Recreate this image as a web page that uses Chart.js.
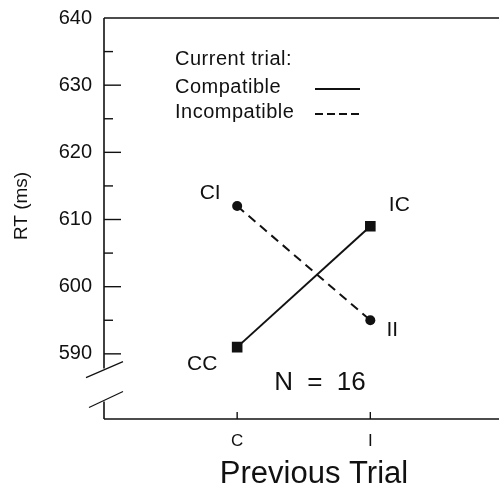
<!DOCTYPE html>
<html>
<head>
<meta charset="utf-8">
<script src="https://cdn.jsdelivr.net/npm/chart.js@4/dist/chart.umd.min.js"></script>
<style>
  html, body { margin: 0; padding: 0; background: #fff; }
  #grafico { display: block; }
</style>
</head>
<body>
<canvas id="grafico" width="499" height="488"></canvas>
<script>
// Datos
const ensayoPrevio = [0, 1];
const etiquetasX = ['C', 'I'];
const compatible = [591, 609];      // CC, IC
const incompatible = [612, 595];    // CI, II
const etiquetasCompatible = ['CC', 'IC'];
const etiquetasIncompatible = ['CI', 'II'];
const ticksY = [590, 595, 600, 605, 610, 615, 620, 625, 630, 635, 640];

const fuente = "'Liberation Sans', Arial, Helvetica, sans-serif";
const negro = '#111';

function linea(ctx, x1, y1, x2, y2) {
  ctx.beginPath();
  ctx.moveTo(x1, y1);
  ctx.lineTo(x2, y2);
  ctx.stroke();
}

// Marco, corte del eje, marcas, leyenda y textos sueltos
const decoracion = {
  id: 'decoracion',
  afterDraw(chart) {
    const ctx = chart.ctx;
    const { left, top, bottom } = chart.chartArea;
    const right = chart.width; // el marco llega hasta el borde
    const ys = chart.scales.y;
    const xs = chart.scales.x;

    ctx.save();
    ctx.strokeStyle = negro;
    ctx.lineWidth = 1.6;
    ctx.setLineDash([]);

    linea(ctx, left, top, right, top);
    const corteArriba = ys.getPixelForValue(587.8);
    const corteAbajo = ys.getPixelForValue(582.9);
    linea(ctx, left, top, left, corteArriba);
    linea(ctx, left, corteAbajo, left, bottom);
    linea(ctx, left, bottom, right, bottom);

    // las dos rayitas del corte
    ctx.lineWidth = 1.3;
    linea(ctx, left - 18, corteArriba + 9, left + 19, corteArriba - 7);
    linea(ctx, left - 15, corteAbajo + 6, left + 19, corteAbajo - 10);

    // ticks hacia adentro
    ctx.lineWidth = 1.4;
    ticksY.forEach(v => {
      if (v === 640) return;
      const y = ys.getPixelForValue(v);
      linea(ctx, left, y, left + (v % 10 === 0 ? 17 : 9), y);
    });
    ensayoPrevio.forEach(v => {
      const x = xs.getPixelForValue(v);
      linea(ctx, x, bottom, x, bottom - 7);
    });

    // etiquetas de cada punto
    ctx.fillStyle = negro;
    ctx.textAlign = 'center';
    ctx.textBaseline = 'middle';
    ctx.font = '21px ' + fuente;
    const m0 = chart.getDatasetMeta(0).data;
    const m1 = chart.getDatasetMeta(1).data;
    const despC = [[-35, 17], [29, -21]];
    const despI = [[-27, -13], [22, 10]];
    m0.forEach((p, i) => ctx.fillText(etiquetasCompatible[i], p.x + despC[i][0], p.y + despC[i][1]));
    m1.forEach((p, i) => ctx.fillText(etiquetasIncompatible[i], p.x + despI[i][0], p.y + despI[i][1]));

    // N = 16
    ctx.font = '26px ' + fuente;
    ctx.wordSpacing = '7px';
    ctx.fillText('N = 16', 320, 383);
    ctx.wordSpacing = '0px';

    // leyenda
    ctx.textAlign = 'left';
    ctx.font = '20px ' + fuente;
    ctx.letterSpacing = '0.5px';
    ctx.fillText('Current trial:', 175, 59);
    ctx.fillText('Compatible', 175, 87);
    ctx.fillText('Incompatible', 175, 112);
    ctx.letterSpacing = '0px';
    ctx.lineWidth = 2;
    linea(ctx, 315, 89, 360, 89);
    ctx.setLineDash([8, 4]);
    linea(ctx, 315, 114, 360, 114);
    ctx.setLineDash([]);

    // titulos de los ejes
    ctx.textAlign = 'center';
    ctx.font = '31px ' + fuente;
    ctx.fillText('Previous Trial', 314, 474);
    ctx.save();
    ctx.translate(22, 206);
    ctx.rotate(-Math.PI / 2);
    ctx.font = '19px ' + fuente;
    ctx.fillText('RT (ms)', 0, 0);
    ctx.restore();

    ctx.restore();
  }
};

Chart.defaults.font.family = fuente;
Chart.defaults.color = negro;

new Chart(document.getElementById('grafico'), {
  type: 'line',
  data: {
    datasets: [
      {
        label: 'Compatible',
        data: ensayoPrevio.map((x, i) => ({ x: x, y: compatible[i] })),
        borderColor: negro,
        backgroundColor: negro,
        borderWidth: 2,
        pointStyle: 'rect',
        pointRadius: 7.5,
        pointBorderWidth: 0
      },
      {
        label: 'Incompatible',
        data: ensayoPrevio.map((x, i) => ({ x: x, y: incompatible[i] })),
        borderColor: negro,
        backgroundColor: negro,
        borderWidth: 2,
        borderDash: [9, 6],
        pointStyle: 'circle',
        pointRadius: 5,
        pointBorderWidth: 0
      }
    ]
  },
  options: {
    responsive: false,
    animation: false,
    layout: { padding: { top: 18, right: 0, left: 0, bottom: 0 } },
    plugins: {
      legend: { display: false },
      tooltip: { enabled: false }
    },
    scales: {
      x: {
        type: 'linear',
        min: -1,
        max: 1.91,
        grid: { display: false, drawTicks: false },
        border: { display: false },
        afterBuildTicks: s => { s.ticks = ensayoPrevio.map(v => ({ value: v })); },
        afterFit: s => { s.height = 69; s.paddingLeft = 0; s.paddingRight = 0; },
        ticks: {
          callback: v => etiquetasX[ensayoPrevio.indexOf(v)] || '',
          font: { size: 17 },
          padding: 12,
          maxRotation: 0,
          autoSkip: false
        }
      },
      y: {
        min: 580.3,
        max: 640,
        grid: { display: false, drawTicks: false },
        border: { display: false },
        afterBuildTicks: s => { s.ticks = ticksY.map(v => ({ value: v })); },
        afterFit: s => { s.width = 104; s.paddingTop = 0; s.paddingBottom = 0; },
        ticks: {
          callback: v => (v % 10 === 0 ? v : ''),
          font: { size: 20 },
          padding: 12,
          autoSkip: false
        }
      }
    }
  },
  plugins: [decoracion]
});
</script>
</body>
</html>
